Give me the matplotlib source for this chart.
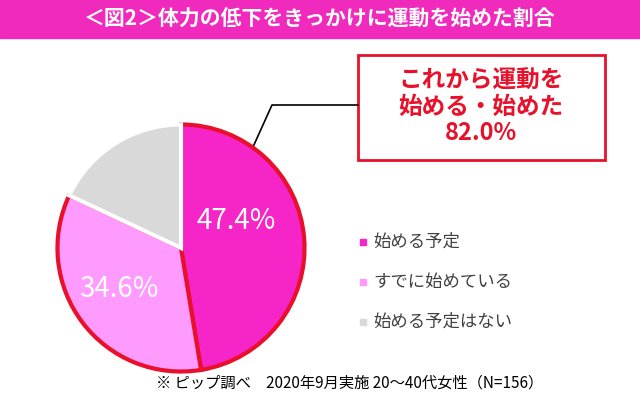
import matplotlib
matplotlib.use("Agg")
import matplotlib.pyplot as plt
from matplotlib.patches import Rectangle

plt.rcParams['font.family'] = 'Noto Sans CJK JP'

labels = ["始める予定", "すでに始めている", "始める予定はない"]
values = [47.4, 34.6, 18.0]
colors = ["#F525C8", "#FF9BFF", "#D9D9D9"]
title = "＜図2＞体力の低下をきっかけに運動を始めた割合"
callout = "これから運動を\n始める・始めた\n82.0%"
note = "※ ピップ調べ　2020年9月実施 20～40代女性（N=156）"

W, H = 640, 405
fig = plt.figure(figsize=(6.4, 4.05), dpi=100)
bg = fig.add_axes([0, 0, 1, 1])
bg.set_xlim(0, W); bg.set_ylim(H, 0); bg.axis('off')

bg.add_patch(Rectangle((0, 0), W, 38, color="#F02ABD"))
bg.text(320, 19, title, color="white", fontsize=15, fontweight='bold', ha='center', va='center')

ax = fig.add_axes([55/W, (H-374)/H, 252/W, 252/H])
wedges, _ = ax.pie(values, colors=colors, startangle=90, counterclock=False,
                   wedgeprops=dict(linewidth=3))
edges = ["#E8102A", "#E8102A", "white"]
for w, e in zip(wedges, edges):
    w.set_edgecolor(e)
wedges[2].set_zorder(1)
ax.set_xlim(-1.02, 1.02); ax.set_ylim(-1.02, 1.02)
ax.set_aspect('equal')
ax.text(0.45, 0.22, f"{values[0]}%", color="white", fontsize=20, ha='center', va='center')
ax.text(-0.5, -0.33, f"{values[1]}%", color="white", fontsize=20, ha='center', va='center')

# callout
bg.add_patch(Rectangle((358, 55), 247, 105, facecolor="white", edgecolor="#E8102A", lw=2))
bg.text(481, 107, callout, color="#E8102A", fontsize=17, fontweight='bold',
        ha='center', va='center', linespacing=1.1)
bg.plot([358, 272, 248], [105, 105, 158], color="black", lw=1.2)

for i, (lab, c) in enumerate(zip(labels, colors)):
    y = 242 + i * 40
    bg.add_patch(Rectangle((360, y - 3), 6, 6, color=c))
    bg.text(373, y, lab, fontsize=12.5, color="#404040", va='center')

bg.text(350, 383, note, fontsize=11, color="black", ha='center', va='center')

fig.savefig("out.png", dpi=100, facecolor="white")
